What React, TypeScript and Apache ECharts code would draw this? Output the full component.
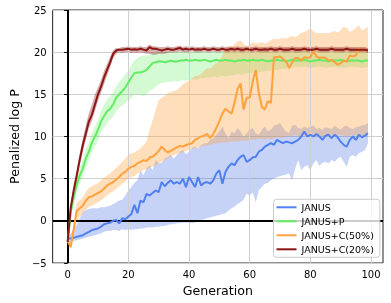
import React, { useEffect, useRef } from "react";
import * as echarts from "echarts";

const gens: number[] = Array.from({ length: 100 }, (_, i) => i);
const xTicks = [0, 20, 40, 60, 80, 100];
const seriesNames = ["JANUS", "JANUS+P", "JANUS+C(50%)", "JANUS+C(20%)"];

const janusMean = [
  -2.1, -2.1, -2.0, -1.9, -1.8, -1.7, -1.5, -1.3, -1.1, -1.0,
  -0.9, -0.7, -0.4, -0.3, -0.2, 0.0, 0.1, -0.3, 0.3, 0.2,
  0.5, 0.8, 1.9, 0.9, 2.4, 2.2, 3.2, 3.0, 3.3, 3.6,
  3.4, 4.6, 4.1, 4.5, 4.8, 4.4, 4.6, 4.4, 5.0, 4.0,
  5.2, 4.6, 4.0, 5.2, 4.2, 4.5, 4.6, 4.4, 4.8, 5.6,
  6.0, 4.4, 5.8, 6.4, 6.8, 6.6, 7.2, 7.6, 7.8, 7.0,
  7.2, 7.5, 7.6, 8.2, 8.4, 8.8, 9.0, 9.2, 9.0, 9.6,
  9.4, 9.2, 9.4, 9.3, 9.2, 9.4, 9.6, 10.0, 10.6, 10.0,
  10.2, 10.0, 10.3, 10.0, 9.6, 10.1, 10.2, 9.8, 10.2, 9.9,
  9.4, 9.0, 8.8, 9.6, 10.0, 9.6, 10.2, 9.9, 10.1, 10.4,
];
const janusLow = [
  -2.5, -2.6, -2.4, -2.3, -2.2, -2.1, -2.0, -1.9, -1.8, -1.7,
  -1.6, -1.5, -1.3, -1.2, -1.2, -1.1, -1.1, -1.2, -1.0, -1.1,
  -1.0, -1.1, -1.0, -1.0, -0.9, -0.9, -0.8, -0.8, -0.8, -0.7,
  -0.7, -0.6, -0.6, -0.5, -0.4, -0.4, -0.3, -0.3, -0.2, -0.2,
  -0.2, -0.3, -0.2, 0.0, 0.1, 0.2, 0.3, 0.4, 0.5, 0.6,
  0.7, 0.8, 0.9, 1.2, 1.5, 1.7, 2.0, 2.2, 2.5, 3.2,
  3.0, 3.4, 2.2, 3.6, 4.0, 4.4, 4.5, 4.8, 5.0, 5.2,
  5.3, 5.4, 5.5, 5.6, 4.8, 6.2, 7.2, 6.0, 6.4, 6.6,
  6.0, 6.8, 7.2, 6.5, 6.9, 7.0, 6.8, 7.2, 7.0, 7.4,
  7.6, 7.0, 6.4, 7.6, 7.8, 7.6, 8.0, 8.2, 8.4, 9.2,
];
const janusHigh = [
  -1.8, -1.5, -1.0, -0.5, 0.3, 1.0, 1.3, 1.4, 1.5, 1.5,
  1.5, 1.6, 1.6, 1.7, 1.8, 2.0, 2.2, 2.4, 2.5, 3.0,
  3.6, 4.0, 4.5, 4.8, 6.0, 5.4, 6.2, 6.6, 6.0, 7.2,
  6.8, 6.9, 7.4, 7.6, 7.8, 7.4, 7.8, 8.2, 8.4, 7.9,
  8.2, 8.6, 8.8, 8.6, 9.0, 9.2, 9.2, 9.6, 9.8, 10.2,
  10.6, 11.2, 10.4, 9.8, 10.6, 10.4, 11.0, 10.6, 10.0, 10.4,
  10.8, 11.0, 10.4, 10.2, 10.8, 11.2, 10.6, 10.8, 11.3, 11.4,
  11.6, 11.0, 10.6, 10.4, 11.3, 11.4, 11.0, 10.9, 11.2, 11.0,
  11.2, 11.3, 10.9, 11.0, 10.8, 11.1, 11.0, 10.9, 11.3, 11.0,
  10.8, 11.2, 11.3, 11.0, 10.9, 11.1, 11.2, 11.3, 11.4, 11.6,
];

const pMean = [
  -2.5, 1.0, 2.8, 4.3, 5.4, 6.2, 7.4, 8.2, 9.3, 10.0,
  10.8, 11.8, 12.4, 13.0, 13.3, 13.8, 14.6, 15.0, 15.4, 15.8,
  16.4, 17.0, 17.5, 17.6, 17.6, 17.7, 17.9, 18.3, 18.7, 18.8,
  18.9, 18.9, 18.8, 18.9, 19.0, 18.9, 18.9, 19.0, 19.0, 19.1,
  19.0, 19.0, 19.1, 19.0, 19.0, 19.1, 19.0, 18.9, 19.0, 19.1,
  19.0, 19.0, 19.1, 19.0, 19.0, 18.9, 19.0, 19.0, 19.1, 19.0,
  19.0, 19.1, 19.0, 19.0, 19.1, 19.0, 18.9, 19.0, 19.0, 19.1,
  19.0, 19.0, 18.9, 19.0, 19.1, 19.0, 19.0, 19.0, 19.1, 19.0,
  18.9, 19.0, 19.0, 19.1, 19.0, 19.0, 18.9, 19.0, 19.0, 19.0,
  19.1, 19.0, 18.9, 19.0, 19.0, 19.0, 19.0, 18.9, 19.0, 19.0,
];
const pLow = [
  -2.8, 0.4, 2.0, 3.4, 4.4, 5.2, 6.3, 7.1, 8.1, 8.8,
  9.5, 10.5, 11.0, 11.6, 12.0, 12.4, 13.0, 13.4, 13.7, 14.0,
  14.3, 14.5, 15.0, 15.0, 14.9, 14.8, 15.0, 15.4, 15.6, 15.9,
  16.2, 16.3, 16.4, 16.5, 16.5, 16.6, 16.5, 16.6, 16.7, 16.6,
  16.7, 16.8, 16.7, 16.8, 16.9, 16.9, 17.0, 17.0, 17.1, 17.0,
  17.1, 17.2, 17.1, 17.2, 17.3, 17.3, 17.4, 17.3, 17.4, 17.5,
  17.5, 17.6, 17.5, 17.6, 17.7, 17.7, 17.8, 17.8, 17.9, 17.9,
  18.0, 18.0, 18.1, 18.1, 18.2, 18.3, 18.2, 18.2, 18.3, 18.2,
  18.1, 18.2, 18.2, 18.3, 18.2, 18.1, 18.2, 18.2, 18.3, 18.2,
  18.2, 18.1, 18.2, 18.2, 18.3, 18.2, 18.2, 18.1, 18.2, 18.2,
];
const pHigh = [
  -2.2, 1.6, 3.6, 5.2, 6.4, 7.2, 8.5, 9.3, 10.5, 11.2,
  12.0, 13.1, 13.8, 14.4, 14.8, 15.3, 16.0, 16.5, 16.9, 17.3,
  17.8, 18.5, 19.0, 19.3, 19.5, 19.6, 19.6, 19.7, 19.9, 19.9,
  20.0, 20.0, 20.0, 20.0, 20.1, 20.0, 20.0, 20.1, 20.0, 20.1,
  20.1, 20.0, 20.1, 20.1, 20.0, 20.1, 20.0, 20.0, 20.1, 20.0,
  20.1, 20.1, 20.0, 20.1, 20.2, 20.1, 20.0, 20.1, 20.1, 20.0,
  20.1, 20.0, 20.1, 20.1, 20.0, 20.1, 20.1, 20.0, 20.1, 20.1,
  20.0, 20.1, 20.1, 20.0, 20.1, 20.2, 20.1, 20.0, 20.1, 20.1,
  20.0, 20.1, 20.1, 20.0, 20.1, 20.1, 20.0, 20.1, 20.1, 20.0,
  20.1, 20.1, 20.0, 20.1, 20.1, 20.0, 20.1, 20.1, 20.0, 20.1,
];

const c50Mean = [
  -2.4, -3.1, -1.0, 1.2, 1.5, 1.8, 2.4, 2.8, 2.9, 3.1,
  3.3, 3.5, 3.8, 4.2, 4.4, 4.6, 4.9, 5.2, 5.6, 5.8,
  6.2, 6.4, 6.5, 6.8, 7.0, 7.2, 7.1, 7.5, 7.6, 7.9,
  8.3, 8.8, 8.4, 8.1, 8.3, 8.5, 8.7, 8.9, 8.8, 9.0,
  9.1, 9.2, 9.6, 9.8, 10.0, 10.1, 10.3, 9.8, 10.3, 11.0,
  11.8, 12.7, 13.3, 13.0, 12.7, 14.0, 15.6, 16.3, 13.2, 14.6,
  14.6, 16.5, 17.9, 15.2, 13.5, 13.2, 14.2, 14.0, 19.4, 19.4,
  19.5, 19.2, 18.9, 18.1, 18.8, 19.3, 19.3, 19.0, 19.4, 19.3,
  19.4, 20.1, 19.5, 19.3, 19.4, 19.3, 19.0, 19.1, 18.8, 18.5,
  18.7, 19.0, 18.9, 19.6, 19.5, 19.6, 20.5, 20.2, 20.3, 20.2,
];
const c50Low = [
  -2.7, -3.4, -1.6, 0.0, 0.5, 0.8, 1.3, 1.7, 1.8, 2.0,
  2.2, 2.4, 2.7, 3.0, 3.3, 3.5, 3.8, 4.1, 4.4, 4.6,
  5.0, 5.2, 5.3, 5.6, 5.8, 6.0, 6.1, 6.3, 6.4, 6.6,
  6.8, 7.0, 7.2, 7.4, 7.6, 7.8, 7.9, 8.0, 8.1, 8.3,
  8.4, 8.5, 8.6, 8.7, 8.8, 8.9, 8.9, 9.0, 9.1, 9.2,
  9.2, 9.3, 9.3, 9.3, 9.4, 9.4, 9.4, 9.5, 9.5, 9.5,
  9.6, 9.6, 9.6, 9.7, 9.7, 9.6, 9.8, 9.7, 9.8, 9.9,
  9.8, 9.9, 10.0, 10.0, 10.1, 10.2, 10.1, 10.0, 10.1, 10.2,
  10.0, 10.1, 10.2, 10.1, 10.0, 10.1, 10.2, 10.1, 10.0, 10.1,
  10.2, 10.1, 10.0, 10.1, 10.2, 10.1, 10.2, 10.1, 10.0, 10.2,
];
const c50High = [
  -2.1, -2.8, -0.2, 2.2, 2.4, 2.8, 3.4, 3.9, 4.1, 4.3,
  4.5, 4.8, 5.1, 5.4, 5.6, 6.0, 6.3, 6.6, 7.0, 7.4,
  7.8, 8.0, 8.1, 8.3, 8.6, 9.0, 9.4, 10.8, 11.9, 13.1,
  14.3, 14.6, 14.8, 15.1, 15.3, 15.4, 15.5, 15.8, 16.2, 16.4,
  16.6, 16.9, 17.2, 17.2, 17.4, 17.8, 18.1, 18.1, 18.4, 18.7,
  18.9, 19.6, 20.4, 20.8, 20.5, 20.9, 21.3, 21.4, 21.0, 20.6,
  20.9, 21.2, 21.0, 21.1, 21.2, 21.0, 21.2, 21.4, 21.6, 21.5,
  21.6, 21.7, 21.6, 21.8, 21.9, 21.8, 22.0, 22.3, 22.4, 22.6,
  22.8, 22.5, 22.2, 22.3, 22.2, 22.3, 22.2, 22.4, 22.5, 22.3,
  22.6, 23.0, 22.9, 22.4, 22.6, 22.9, 23.2, 22.6, 22.8, 23.0,
];

const c20Mean = [
  -2.5, 1.5, 3.6, 5.4, 7.3, 9.0, 10.4, 11.8, 12.6, 13.8,
  15.0, 15.9, 17.0, 17.9, 18.8, 19.8, 20.2, 20.3, 20.3, 20.35,
  20.4, 20.3, 20.35, 20.3, 20.4, 20.3, 20.2, 20.6, 20.4, 20.4,
  20.3, 20.2, 20.3, 20.4, 20.3, 20.3, 20.4, 20.5, 20.3, 20.4,
  20.3, 20.4, 20.3, 20.35, 20.3, 20.4, 20.3, 20.3, 20.4, 20.3,
  20.3, 20.4, 20.3, 20.3, 20.4, 20.3, 20.4, 20.3, 20.3, 20.4,
  20.3, 20.3, 20.4, 20.3, 20.3, 20.35, 20.3, 20.4, 20.3, 20.3,
  20.4, 20.3, 20.3, 20.3, 20.4, 20.3, 20.3, 20.3, 20.4, 20.3,
  20.3, 20.3, 20.4, 20.3, 20.3, 20.3, 20.3, 20.4, 20.3, 20.3,
  20.3, 20.3, 20.4, 20.3, 20.3, 20.3, 20.3, 20.3, 20.3, 20.2,
];
const c20Low = [
  -2.8, 0.9, 3.0, 4.8, 6.6, 8.2, 9.6, 11.0, 11.8, 13.0,
  14.2, 15.2, 16.2, 17.2, 18.2, 19.3, 19.8, 20.0, 19.9, 20.0,
  20.0, 19.9, 19.95, 19.9, 20.0, 19.9, 19.8, 19.8, 19.7, 19.7,
  19.8, 19.8, 19.8, 19.9, 20.0, 20.0, 20.0, 20.1, 20.0, 20.0,
  20.0, 20.1, 20.0, 20.0, 20.0, 20.1, 20.0, 20.0, 20.1, 20.0,
  20.0, 20.1, 20.0, 20.0, 20.1, 20.0, 20.1, 20.0, 20.0, 20.1,
  20.0, 20.0, 20.1, 20.0, 20.0, 20.0, 20.0, 20.1, 20.0, 20.0,
  20.1, 20.0, 20.0, 20.0, 20.1, 20.0, 20.0, 20.0, 20.1, 20.0,
  20.0, 20.0, 20.1, 20.0, 20.0, 20.0, 20.0, 20.1, 20.0, 20.0,
  20.0, 20.0, 20.1, 20.0, 20.0, 20.0, 20.0, 20.0, 20.0, 19.9,
];
const c20High = [
  -2.2, 2.1, 4.2, 6.0, 8.0, 9.8, 11.3, 12.8, 13.8, 15.0,
  15.8, 16.7, 17.8, 18.6, 19.5, 20.2, 20.5, 20.5, 20.6, 20.6,
  20.7, 20.6, 20.6, 20.6, 20.7, 20.6, 20.6, 20.9, 20.7, 20.7,
  20.6, 20.6, 20.6, 20.7, 20.6, 20.6, 20.7, 20.8, 20.6, 20.7,
  20.6, 20.7, 20.6, 20.6, 20.6, 20.7, 20.6, 20.6, 20.7, 20.6,
  20.6, 20.7, 20.6, 20.6, 20.7, 20.6, 20.7, 20.6, 20.6, 20.7,
  20.6, 20.6, 20.7, 20.6, 20.6, 20.6, 20.6, 20.7, 20.6, 20.6,
  20.7, 20.6, 20.6, 20.6, 20.7, 20.6, 20.6, 20.6, 20.7, 20.6,
  20.6, 20.6, 20.7, 20.6, 20.6, 20.6, 20.6, 20.7, 20.6, 20.6,
  20.6, 20.6, 20.7, 20.6, 20.6, 20.6, 20.6, 20.6, 20.6, 20.5,
];

const FONT = "DejaVu Sans";

export default function App() {
  const ref = useRef<HTMLDivElement>(null);
  useEffect(() => {
    if (!ref.current) return;
    const chart = echarts.init(ref.current, null, { renderer: "svg" });

    const lineColors = ["#5081ef", "#62ec62", "#ffa13d", "#8b1717"];
    const bandColors = [
      "rgba(65,110,230,0.30)",
      "rgba(110,240,110,0.30)",
      "rgba(255,160,64,0.35)",
      "rgba(139,20,20,0.35)",
    ];
    const means = [janusMean, pMean, c50Mean, c20Mean];
    const lows = [janusLow, pLow, c50Low, c20Low];
    const highs = [janusHigh, pHigh, c50High, c20High];

    const bandSeries = lows.map((low, k) => {
      const high = highs[k];
      return {
        type: "custom",
        silent: true,
        z: 1,
        data: gens.map((g, i) => [g, low[i], high[i]]),
        encode: { x: 0, y: [1, 2] },
        renderItem: (params: any, api: any) => {
          if (params.dataIndex !== 0) return null;
          const pts: number[][] = [];
          for (let i = 0; i < gens.length; i++) pts.push(api.coord([gens[i], high[i]]));
          for (let i = gens.length - 1; i >= 0; i--) pts.push(api.coord([gens[i], low[i]]));
          return {
            type: "polygon",
            shape: { points: pts },
            style: { fill: bandColors[k], stroke: "none" },
          };
        },
      };
    });

    const lineSeries = means.map((m, k) => ({
      name: seriesNames[k],
      type: "line",
      color: lineColors[k],
      showSymbol: false,
      symbol: "none",
      silent: true,
      z: 4 + k,
      data: gens.map((g, i) => [g, m[i]]),
      lineStyle: { width: 2, color: lineColors[k] },
    }));

    const gridSeries = {
      type: "line",
      silent: true,
      z: 0,
      data: [],
      markLine: {
        z: 2,
        silent: true,
        symbol: ["none", "none"],
        label: { show: false },
        lineStyle: { color: "#cfcfcf", width: 1, type: "solid" },
        data: xTicks.map((v) => ({ xAxis: v })),
      },
    };
    const zeroSeries = {
      type: "line",
      silent: true,
      z: 3,
      data: [],
      markLine: {
        z: 3,
        silent: true,
        symbol: ["none", "none"],
        label: { show: false },
        lineStyle: { color: "#000", width: 2, type: "solid" },
        data: [{ xAxis: 0 }, { yAxis: 0 }],
      },
    };

    chart.setOption({
      animation: false,
      grid: {
        left: 45,
        top: 10,
        right: 8,
        bottom: 40,
        show: true,
        backgroundColor: "#fff",
        borderColor: "#222",
        borderWidth: 1,
      },
      xAxis: {
        type: "value",
        min: -4.95,
        max: 103.95,
        name: "Generation",
        nameLocation: "middle",
        nameGap: 19,
        nameTextStyle: { fontSize: 12.6, color: "#000", fontFamily: FONT },
        axisLine: { show: false },
        axisTick: {
          show: true,
          length: 3.5,
          customValues: xTicks,
          lineStyle: { color: "#000", width: 1 },
        },
        axisLabel: {
          customValues: xTicks,
          margin: 6,
          fontSize: 10,
          color: "#000",
          fontFamily: FONT,
        },
        splitLine: { show: false },
      },
      yAxis: {
        type: "value",
        min: -5,
        max: 25,
        interval: 5,
        name: "Penalized log P",
        nameLocation: "middle",
        nameGap: 25,
        nameTextStyle: { fontSize: 12.6, color: "#000", fontFamily: FONT },
        axisLine: { show: false },
        axisTick: { show: true, length: 3.5, lineStyle: { color: "#000", width: 1 } },
        axisLabel: {
          margin: 6,
          fontSize: 10,
          color: "#000",
          fontFamily: FONT,
          formatter: (v: number) => String(v).replace("-", "\u2212"),
        },
        splitLine: { show: true, lineStyle: { color: "#cfcfcf", width: 1 } },
      },
      legend: {
        z: 20,
        orient: "vertical",
        left: 273.5,
        top: 199.3,
        itemWidth: 20,
        itemHeight: 2,
        itemGap: 2,
        padding: [2, 6, 2, 3],
        backgroundColor: "rgba(255,255,255,0.8)",
        borderColor: "#cccccc",
        borderWidth: 1,
        borderRadius: 3,
        textStyle: { fontSize: 9.5, fontFamily: FONT, color: "#000", lineHeight: 12 },
        data: seriesNames.map((n) => ({ name: n, icon: "rect" })),
      },
      series: [gridSeries, ...bandSeries, zeroSeries, ...lineSeries],
    });

    return () => chart.dispose();
  }, []);

  return (
    <div
      ref={ref}
      style={{ position: "fixed", left: 0, top: 0, width: 391, height: 303 }}
    />
  );
}
